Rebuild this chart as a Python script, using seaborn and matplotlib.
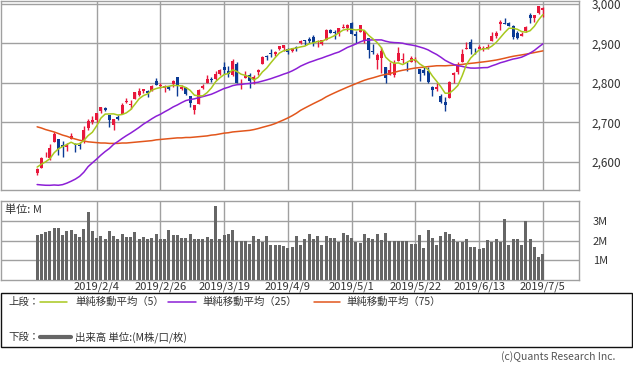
import matplotlib
matplotlib.use("Agg")
import matplotlib.pyplot as plt
from matplotlib.lines import Line2D
from matplotlib.patches import Rectangle
import seaborn as sns
import pandas as pd
import numpy as np

# ============================================
# DATA
# ============================================
month_days = {
    1: [14, 15, 16, 17, 18, 22, 23, 24, 25, 28, 29, 30, 31],
    2: [1, 4, 5, 6, 7, 8, 11, 12, 13, 14, 15, 19, 20, 21, 22, 25, 26, 27, 28],
    3: [1, 4, 5, 6, 7, 8, 11, 12, 13, 14, 15, 18, 19, 20, 21, 22, 25, 26, 27, 28, 29],
    4: [1, 2, 3, 4, 5, 8, 9, 10, 11, 12, 15, 16, 17, 18, 22, 23, 24, 25, 26, 29, 30],
    5: [1, 2, 3, 6, 7, 8, 9, 10, 13, 14, 15, 16, 17, 20, 21, 22, 23, 24, 28, 29, 30, 31],
    6: [3, 4, 5, 6, 7, 10, 11, 12, 13, 14, 17, 18, 19, 20, 21, 24, 25, 26, 27, 28],
    7: [1, 2, 3, 5],
}
dates = [f"2019/{m}/{d}" for m, days in month_days.items() for d in days]

opens = [2571, 2585, 2614, 2609, 2651, 2658, 2643, 2638, 2658, 2645,
         2644, 2654, 2685, 2702, 2706, 2728, 2736, 2718, 2693, 2713,
         2722, 2752, 2744, 2760, 2770, 2779, 2780, 2780, 2805, 2793,
         2787, 2789, 2798, 2815, 2786, 2790, 2766, 2731, 2748, 2787,
         2800, 2811, 2810, 2822, 2841, 2831, 2820, 2848, 2797, 2813,
         2820, 2810, 2828, 2849, 2869, 2877, 2874, 2885, 2889, 2887,
         2881, 2891, 2901, 2909, 2912, 2916, 2904, 2898, 2910, 2934,
         2929, 2925, 2940, 2938, 2952, 2923, 2929, 2909, 2913, 2880,
         2859, 2863, 2841, 2821, 2820, 2856, 2859, 2841, 2854, 2856,
         2836, 2833, 2831, 2790, 2786, 2767, 2752, 2763, 2819, 2828,
         2853, 2886, 2903, 2882, 2887, 2886, 2889, 2906, 2920, 2949,
         2952, 2951, 2945, 2926, 2919, 2932, 2971, 2965, 2978, 2984]
highs = [2585, 2613, 2625, 2645, 2676, 2658, 2653, 2648, 2673, 2647,
         2650, 2690, 2709, 2716, 2725, 2739, 2739, 2719, 2709, 2718,
         2749, 2761, 2757, 2776, 2787, 2786, 2782, 2794, 2813, 2801,
         2796, 2793, 2808, 2816, 2796, 2791, 2768, 2745, 2785, 2798,
         2821, 2815, 2830, 2835, 2852, 2843, 2860, 2852, 2809, 2830,
         2825, 2819, 2836, 2868, 2872, 2885, 2882, 2893, 2896, 2889,
         2889, 2894, 2910, 2909, 2916, 2922, 2908, 2910, 2936, 2936,
         2933, 2940, 2950, 2949, 2955, 2932, 2948, 2932, 2913, 2898,
         2875, 2891, 2841, 2852, 2858, 2892, 2876, 2853, 2868, 2865,
         2836, 2841, 2841, 2792, 2800, 2772, 2764, 2804, 2827, 2852,
         2885, 2905, 2911, 2888, 2896, 2894, 2898, 2930, 2932, 2959,
         2965, 2955, 2947, 2932, 2929, 2944, 2978, 2973, 2996, 2992]
lows = [2566, 2585, 2612, 2606, 2651, 2617, 2612, 2628, 2658, 2624,
        2632, 2648, 2680, 2697, 2698, 2724, 2728, 2688, 2682, 2705,
        2722, 2749, 2735, 2760, 2768, 2774, 2764, 2780, 2794, 2788,
        2776, 2782, 2791, 2767, 2782, 2769, 2738, 2722, 2748, 2786,
        2800, 2803, 2808, 2821, 2823, 2814, 2817, 2800, 2785, 2813,
        2788, 2798, 2819, 2849, 2859, 2866, 2869, 2883, 2881, 2874,
        2879, 2880, 2899, 2896, 2900, 2893, 2892, 2896, 2909, 2926,
        2912, 2918, 2939, 2932, 2923, 2900, 2929, 2900, 2862, 2874,
        2836, 2826, 2801, 2821, 2816, 2856, 2851, 2831, 2854, 2852,
        2806, 2820, 2801, 2766, 2780, 2750, 2729, 2763, 2801, 2823,
        2853, 2886, 2874, 2874, 2887, 2880, 2887, 2906, 2913, 2934,
        2950, 2944, 2911, 2912, 2918, 2929, 2952, 2955, 2975, 2968]
closes = [2583, 2610, 2616, 2636, 2671, 2633, 2639, 2642, 2665, 2644,
          2640, 2681, 2704, 2707, 2725, 2738, 2732, 2706, 2708, 2710,
          2745, 2753, 2746, 2776, 2780, 2785, 2775, 2793, 2796, 2794,
          2792, 2784, 2804, 2793, 2790, 2771, 2749, 2743, 2783, 2792,
          2811, 2808, 2822, 2833, 2833, 2824, 2855, 2801, 2798, 2818,
          2805, 2815, 2834, 2867, 2867, 2873, 2879, 2893, 2896, 2878,
          2888, 2888, 2907, 2906, 2907, 2900, 2905, 2908, 2934, 2927,
          2926, 2940, 2943, 2946, 2924, 2918, 2946, 2932, 2884, 2879,
          2871, 2881, 2812, 2834, 2851, 2876, 2860, 2840, 2864, 2856,
          2822, 2826, 2802, 2783, 2789, 2752, 2744, 2803, 2826, 2843,
          2873, 2887, 2886, 2880, 2892, 2887, 2890, 2918, 2926, 2954,
          2950, 2945, 2917, 2914, 2925, 2942, 2964, 2973, 2996, 2990]

ma5 = [2587.0, 2594.2, 2600.4, 2608.2, 2623.2, 2633.2, 2639.0, 2644.2, 2650.0, 2644.6,
       2646.0, 2654.4, 2666.8, 2675.2, 2691.4, 2711.0, 2721.2, 2721.6, 2721.8, 2718.8,
       2720.2, 2724.4, 2732.4, 2746.0, 2760.0, 2768.0, 2772.4, 2781.8, 2785.8, 2788.6,
       2790.0, 2791.8, 2794.0, 2793.4, 2792.6, 2788.4, 2781.4, 2769.2, 2767.2, 2767.6,
       2775.6, 2787.4, 2803.2, 2813.2, 2821.4, 2824.0, 2833.4, 2829.2, 2822.2, 2819.2,
       2815.4, 2807.4, 2814.0, 2827.8, 2837.6, 2851.2, 2864.0, 2875.8, 2881.6, 2883.8,
       2886.8, 2888.6, 2891.4, 2893.4, 2899.2, 2901.6, 2905.0, 2905.2, 2910.8, 2914.8,
       2920.0, 2927.0, 2934.0, 2936.4, 2935.8, 2934.2, 2935.4, 2933.2, 2920.8, 2911.8,
       2902.4, 2889.4, 2865.4, 2855.4, 2849.8, 2850.8, 2846.6, 2852.2, 2858.2, 2859.2,
       2848.4, 2841.6, 2834.0, 2817.8, 2804.4, 2790.4, 2774.0, 2774.2, 2782.8, 2793.6,
       2817.8, 2846.4, 2863.0, 2873.8, 2883.6, 2886.4, 2887.0, 2893.4, 2902.6, 2915.0,
       2927.6, 2938.6, 2938.4, 2936.0, 2930.2, 2928.6, 2932.4, 2943.6, 2960.0, 2973.0]
ma25 = [2542.8, 2541.8, 2541.0, 2540.9, 2541.7, 2541.0, 2542.6, 2546.4, 2551.2, 2556.6,
        2563.6, 2574.1, 2588.2, 2597.8, 2607.2, 2617.3, 2626.3, 2634.2, 2644.6, 2651.7,
        2659.5, 2666.6, 2673.1, 2680.2, 2687.6, 2695.7, 2702.3, 2709.4, 2715.8, 2720.7,
        2727.0, 2732.8, 2739.3, 2744.4, 2750.3, 2755.5, 2758.2, 2759.8, 2762.8, 2765.5,
        2768.4, 2771.5, 2776.1, 2781.1, 2786.0, 2789.2, 2793.3, 2795.5, 2796.4, 2797.9,
        2798.7, 2800.3, 2801.9, 2804.8, 2807.7, 2810.9, 2814.7, 2818.3, 2822.4, 2825.9,
        2830.6, 2836.2, 2842.7, 2847.6, 2852.2, 2855.8, 2859.7, 2863.1, 2867.2, 2870.9,
        2875.0, 2878.4, 2884.1, 2890.0, 2894.2, 2898.8, 2904.0, 2907.9, 2908.6, 2909.1,
        2909.0, 2909.1, 2905.8, 2903.4, 2902.3, 2901.8, 2900.7, 2898.0, 2896.3, 2894.3,
        2891.2, 2888.0, 2883.8, 2877.7, 2872.2, 2865.2, 2857.4, 2851.8, 2847.0, 2843.8,
        2842.0, 2839.6, 2837.8, 2837.6, 2838.1, 2838.8, 2839.1, 2843.4, 2847.0, 2851.2,
        2854.1, 2857.5, 2860.6, 2862.6, 2865.4, 2870.2, 2875.7, 2882.5, 2891.0, 2899.1]
ma75 = [2689, 2686, 2682, 2679, 2676, 2672, 2668, 2665, 2661, 2658,
        2655, 2653, 2651, 2650, 2649, 2648, 2648, 2647, 2647, 2647,
        2648, 2648, 2649, 2650, 2651, 2652, 2653, 2654, 2656, 2657,
        2658, 2659, 2660, 2661, 2661, 2662, 2662, 2663, 2664, 2665,
        2666, 2668, 2669, 2671, 2673, 2674, 2676, 2677, 2678, 2679,
        2680, 2682.0, 2684.6, 2687.7, 2690.6, 2693.5, 2697.2, 2701.9, 2706.5, 2711.5,
        2717.1, 2723.4, 2730.8, 2736.6, 2742.2, 2747.7, 2753.0, 2758.3, 2764.8, 2770.1,
        2775.1, 2780.0, 2784.7, 2789.4, 2793.8, 2798.2, 2802.7, 2806.9, 2810.2, 2813.0,
        2816.2, 2819.4, 2821.7, 2823.9, 2826.7, 2829.8, 2832.2, 2834.0, 2836.1, 2837.9,
        2839.0, 2840.2, 2841.5, 2842.5, 2843.6, 2843.7, 2843.5, 2844.3, 2845.0, 2845.8,
        2847.0, 2848.5, 2849.7, 2850.8, 2852.2, 2853.4, 2854.8, 2856.4, 2858.1, 2860.3,
        2862.7, 2865.3, 2867.6, 2869.4, 2871.1, 2872.9, 2875.0, 2877.0, 2879.2, 2881.3]

# volume in millions
volume = [2.28, 2.35, 2.43, 2.48, 2.62, 2.62, 2.28, 2.48, 2.53, 2.35,
          2.18, 2.57, 3.42, 2.47, 2.13, 2.23, 2.07, 2.48, 2.23, 2.07,
          2.33, 2.18, 2.18, 2.42, 2.07, 2.18, 2.07, 2.13, 2.33, 2.07,
          2.07, 2.53, 2.28, 2.28, 2.13, 2.13, 2.33, 2.07, 2.07, 2.07,
          2.18, 2.07, 3.73, 2.07, 2.28, 2.35, 2.53, 1.98, 1.95, 1.95,
          1.83, 2.23, 2.10, 1.93, 2.23, 1.78, 1.78, 1.78, 1.70, 1.63,
          1.67, 2.23, 1.78, 2.07, 2.33, 2.08, 2.23, 1.78, 2.23, 2.12,
          2.12, 1.90, 2.37, 2.28, 2.13, 1.92, 1.88, 2.33, 2.13, 2.07,
          2.33, 2.02, 2.40, 1.95, 2.00, 1.95, 1.95, 1.95, 1.82, 1.82,
          2.28, 1.63, 2.53, 2.12, 1.78, 2.23, 2.42, 2.33, 2.07, 1.90,
          1.90, 2.07, 1.67, 1.67, 1.57, 1.63, 2.05, 1.90, 2.07, 1.90,
          3.07, 1.78, 2.07, 2.07, 1.78, 2.98, 2.07, 1.67, 1.15, 1.33]

tick_dates = ["2019/2/4", "2019/2/26", "2019/3/19", "2019/4/9",
              "2019/5/1", "2019/5/22", "2019/6/13", "2019/7/5"]
price_ticks = [2600, 2700, 2800, 2900, 3000]
vol_ticks = [1, 2, 3]
vol_labels = ["1M", "2M", "3M"]
legend_labels = ["単純移動平均（5）", "単純移動平均（25）", "単純移動平均（75）"]

# ============================================
# STYLE
# ============================================
sns.set_theme(style="white")
plt.rcParams['font.family'] = ['Noto Sans CJK JP', 'DejaVu Sans']

RED = "#e8183c"
BLUE = "#0b3a94"
C5 = "#a8c81e"
C25 = "#8c1fd6"
C75 = "#e2561c"
GRID = "#a0a0a0"
TXT = "#333333"

df = pd.DataFrame({"date": dates, "open": opens, "high": highs, "low": lows,
                   "close": closes, "ma5": ma5, "ma25": ma25, "ma75": ma75,
                   "vol": volume})
df["i"] = np.arange(len(df))
tick_pos = [dates.index(d) for d in tick_dates]

W, H = 633, 371
fig = plt.figure(figsize=(W / 100, H / 100), dpi=100)


def fx(px):
    return px / W


def fy(py):
    return 1 - py / H


ax = fig.add_axes([fx(1), fy(190), fx(578), 189 / H])
axv = fig.add_axes([fx(1), fy(280), fx(578), 79 / H])

# ============================================
# PRICE PANEL
# ============================================
up = df["close"] >= df["open"]
colors = np.where(up, RED, BLUE)
ax.vlines(df["i"], df["low"], df["high"], colors=colors, lw=1, zorder=3)
body_low = df[["open", "close"]].min(axis=1)
body_h = (df["close"] - df["open"]).abs().clip(lower=1.5)
ax.bar(df["i"], body_h, bottom=body_low, width=0.72, color=colors, lw=0, zorder=3)

sns.lineplot(data=df, x="i", y="ma75", ax=ax, color=C75, lw=1.1, zorder=4)
sns.lineplot(data=df, x="i", y="ma25", ax=ax, color=C25, lw=1.1, zorder=4)
sns.lineplot(data=df, x="i", y="ma5", ax=ax, color=C5, lw=1.1, zorder=5)

ax.set_xlim(-8.5, 127.5)
ax.set_ylim(2529, 3007.6)
ax.set_xticks(tick_pos)
ax.set_xticklabels([])
ax.set_yticks(price_ticks)
ax.set_yticklabels([f"{v:,}" for v in price_ticks])
ax.yaxis.tick_right()
ax.tick_params(axis="y", length=0, pad=9, labelsize=8.5, labelcolor=TXT)
ax.tick_params(axis="x", length=0)
ax.grid(True, color=GRID, lw=1, zorder=0)
ax.set_xlabel("")
ax.set_ylabel("")
for s in ax.spines.values():
    s.set_color(GRID)
    s.set_linewidth(1)

# ============================================
# VOLUME PANEL
# ============================================
sns.barplot(data=df, x="i", y="vol", ax=axv, native_scale=True, color="#666666",
            saturation=1, width=0.7, linewidth=0, zorder=3)
axv.set_xlim(-8.5, 127.5)
axv.set_ylim(0, 4.0)
axv.set_yticks(vol_ticks)
axv.set_yticklabels(vol_labels)
axv.yaxis.tick_right()
axv.tick_params(axis="y", length=0, pad=10, labelsize=8, labelcolor=TXT)
axv.set_xticks(tick_pos)
axv.set_xticklabels(tick_dates)
axv.tick_params(axis="x", length=0, pad=1, labelsize=8, labelcolor=TXT)
axv.grid(True, color=GRID, lw=1, zorder=0)
axv.set_axisbelow(True)
axv.set_xlabel("")
axv.set_ylabel("")
for s in axv.spines.values():
    s.set_color(GRID)
    s.set_linewidth(1)
axv.text(fx(5), fy(210), "単位: M", transform=fig.transFigure, fontsize=8,
         color=TXT, va="center", ha="left")

# ============================================
# LEGEND BOX
# ============================================
fig.add_artist(Rectangle((fx(0.5), fy(347)), fx(631), 54 / H, fill=False,
                         edgecolor="#111111", lw=1, transform=fig.transFigure))

row1, row2 = 302, 337
fig.text(fx(8), fy(row1), "上段：", fontsize=7.5, color=TXT, va="center")
fig.text(fx(8), fy(row2), "下段：", fontsize=7.5, color=TXT, va="center")

legend_items = [(40, 67, 75, C5), (168, 196, 202, C25), (314, 340, 346, C75)]
for (x0, x1, xt, col), lab in zip(legend_items, legend_labels):
    fig.add_artist(Line2D([fx(x0), fx(x1)], [fy(row1), fy(row1)], color=col, lw=1.1,
                          transform=fig.transFigure))
    fig.text(fx(xt), fy(row1), lab, fontsize=7.5, color=TXT, va="center")

fig.add_artist(Line2D([fx(40), fx(71)], [fy(row2), fy(row2)], color="#666666", lw=3,
                      transform=fig.transFigure))
fig.text(fx(75), fy(row2), "出来高 単位:(M株/口/枚)", fontsize=7.5, color=TXT, va="center")

fig.text(fx(615), fy(357), "(c)Quants Research Inc.", fontsize=7.5, color="#555555",
         va="center", ha="right")

fig.savefig("out.png", dpi=100)
